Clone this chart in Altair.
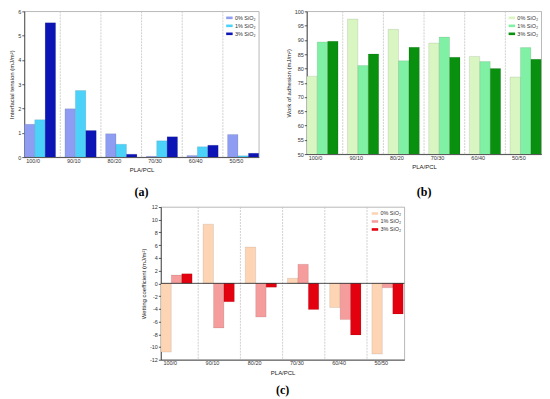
import altair as alt
import pandas as pd

categories = ["100/0", "90/10", "80/20", "70/30", "60/40", "50/50"]
series = ["0% SiO₂", "1% SiO₂", "3% SiO₂"]

# (a) Interfacial tension
tension_0 = [1.35, 1.99, 0.96, 0.03, 0.07, 0.93]
tension_1 = [1.54, 2.74, 0.53, 0.67, 0.43, 0.05]
tension_3 = [5.53, 1.09, 0.12, 0.84, 0.49, 0.16]
ticks_a = [0, 1, 2, 3, 4, 5, 6]

# (b) Work of adhesion
adhesion_0 = [77.3, 97.3, 93.7, 88.9, 84.2, 77.0]
adhesion_1 = [89.3, 81.0, 82.7, 91.0, 82.4, 87.3]
adhesion_3 = [89.5, 85.1, 87.4, 83.9, 80.0, 83.2]
ticks_b = [50, 55, 60, 65, 70, 75, 80, 85, 90, 95, 100]

# (c) Wetting coefficient
wetting_0 = [-10.8, 9.3, 5.7, 0.8, -3.8, -11.1]
wetting_1 = [1.3, -7.0, -5.3, 3.0, -5.7, -0.7]
wetting_3 = [1.5, -2.9, -0.6, -4.1, -8.1, -4.8]
ticks_c = [-12, -10, -8, -6, -4, -2, 0, 2, 4, 6, 8, 10, 12]
zero_line = [0]

colors_a = ["#8E9DF2", "#4CD2F9", "#0C14B5"]
colors_b = ["#D9F5C2", "#80F0A4", "#0A900F"]
colors_c = ["#FDD5B5", "#F59C9C", "#E3000F"]

FONT = "Liberation Sans"
PAD_INNER = 0.23


def long_table(v0, v1, v3):
    rows = []
    for s, vals in zip(series, [v0, v1, v3]):
        for c, v in zip(categories, vals):
            rows.append({"cat": c, "series": s, "value": v})
    return pd.DataFrame(rows)


def panel(v0, v1, v3, colors, ticks, ytitle, label, width, height,
          with_zero=False, title_offset=12):
    df = long_table(v0, v1, v3)
    xscale = alt.Scale(domain=categories, paddingInner=PAD_INNER, paddingOuter=0)
    yscale = alt.Scale(domain=[ticks[0], ticks[-1]], zero=False, nice=False)
    yaxis = alt.Axis(title=ytitle, values=ticks, labelExpr="'' + datum.value",
                     labelOverlap=False, tickSize=2.5, labelPadding=1,
                     titlePadding=3)
    step = width / (len(categories) - PAD_INNER)
    half_gap = step * PAD_INNER / 2
    bars = alt.Chart(df).mark_bar(
        stroke="black", strokeOpacity=0.18, strokeWidth=0.5, clip=True
    ).encode(
        x=alt.X("cat:N", scale=xscale,
                axis=alt.Axis(title="PLA/PCL", labelAngle=0, ticks=False,
                              labelPadding=3, titlePadding=3)),
        xOffset=alt.XOffset("series:N",
                            scale=alt.Scale(domain=series, paddingInner=0,
                                            paddingOuter=0)),
        y=alt.Y("value:Q", scale=yscale, axis=yaxis),
        color=alt.Color("series:N",
                        scale=alt.Scale(domain=series, range=colors),
                        legend=alt.Legend(
                            title=None, orient="top-right", offset=3,
                            symbolType="M-1,-0.4H1V0.4H-1Z", symbolSize=42,
                            symbolStrokeWidth=0, labelFontSize=5.5,
                            labelFont=FONT, labelColor="#333", rowPadding=1,
                            padding=0, labelOffset=2)),
    )
    sep_df = pd.DataFrame({"cat": categories[1:]})
    seps = alt.Chart(sep_df).mark_rule(
        color="#c4c4c4", strokeDash=[2, 1], strokeWidth=0.8,
        xOffset=-half_gap
    ).encode(x=alt.X("cat:N", scale=xscale, bandPosition=0))
    layers = [seps, bars]
    if with_zero:
        zdf = pd.DataFrame({"value": zero_line})
        layers.append(alt.Chart(zdf).mark_rule(color="#222", strokeWidth=0.8)
                      .encode(y=alt.Y("value:Q", scale=yscale, axis=yaxis)))
    return alt.layer(*layers).properties(
        width=width, height=height,
        title=alt.TitleParams(text=label, orient="bottom",
                              font="Liberation Serif", fontSize=12,
                              fontWeight="bold", color="black",
                              offset=title_offset),
    )


pa = panel(tension_0, tension_1, tension_3, colors_a, ticks_a,
           "Interfacial tension (mJ/m²)", "(a)", 235, 146, title_offset=14)
pb = panel(adhesion_0, adhesion_1, adhesion_3, colors_b, ticks_b,
           "Work of adhesion (mJ/m²)", "(b)", 235, 143, title_offset=17)
pc = panel(wetting_0, wetting_1, wetting_3, colors_c, ticks_c,
           "Wetting coefficient (mJ/m²)", "(c)", 244, 153, with_zero=True,
           title_offset=10)

top = alt.hconcat(pa, pb, spacing=24).resolve_scale(
    color="independent", x="independent", y="independent"
).resolve_legend(color="independent")

chart = alt.vconcat(top, pc, spacing=6, center=True).resolve_scale(
    color="independent", x="independent", y="independent"
).resolve_legend(color="independent").properties(
    padding=0
).configure_view(
    stroke="#9a9a9a", strokeWidth=0.7
).configure_axis(
    labelFont=FONT, titleFont=FONT, labelFontSize=5.5, titleFontSize=6,
    titleFontWeight="normal", labelColor="#333", titleColor="#222",
    domainColor="#333", tickColor="#333", domainWidth=0.8, tickWidth=0.8,
    grid=False
)

chart.save("out.html", embed_options={"renderer": "svg", "actions": False})
